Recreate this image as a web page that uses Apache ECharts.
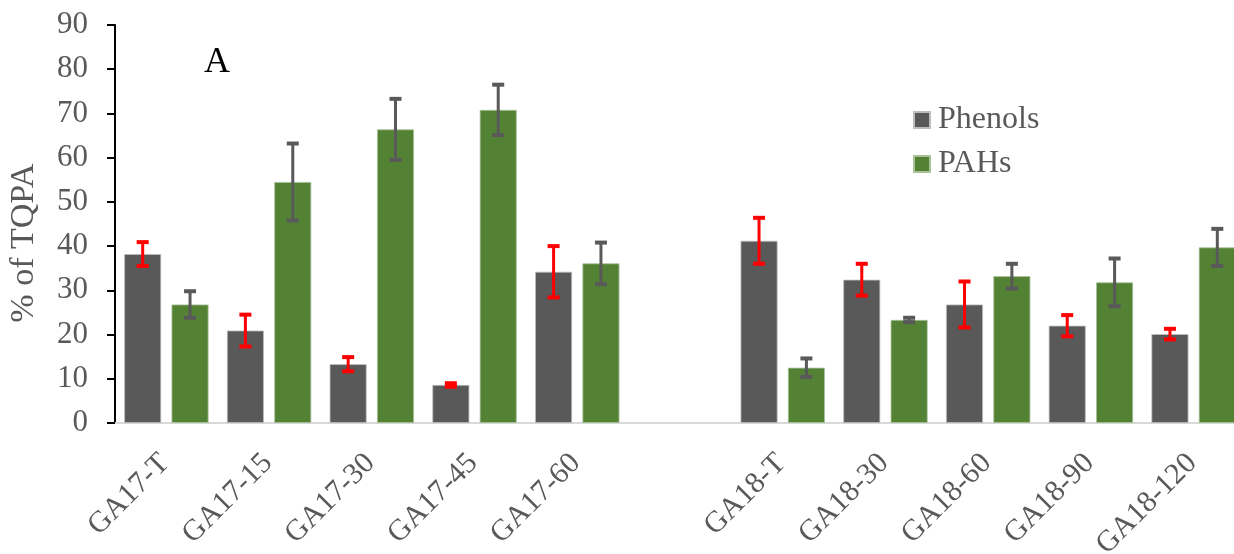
<!DOCTYPE html>
<html>
<head>
<meta charset="utf-8">
<script src="https://cdn.jsdelivr.net/npm/echarts@6/dist/echarts.min.js"></script>
<style>
  html, body { margin: 0; padding: 0; background: #fff; }
  #chart { width: 1234px; height: 554px; }
</style>
</head>
<body>
<div id="chart"></div>
<script>
// Sample sites (the blank entry separates the 2017 and 2018 groups)
const categories = ['GA17-T', 'GA17-15', 'GA17-30', 'GA17-45', 'GA17-60', '',
                    'GA18-T', 'GA18-30', 'GA18-60', 'GA18-90', 'GA18-120'];

// Share of total quantified pyrolysis area (%), with standard deviations
const phenols    = [38.2, 20.9, 13.3, 8.6, 34.2, null, 41.2, 32.4, 26.8, 22.0, 20.1];
const phenolsErr = [2.7, 3.6, 1.6, 0.4, 5.8, null, 5.2, 3.6, 5.2, 2.4, 1.2];
const pahs       = [26.8, 54.5, 66.4, 70.8, 36.1, null, 12.5, 23.3, 33.2, 31.8, 39.7];
const pahsErr    = [3.0, 8.7, 6.9, 5.7, 4.7, null, 2.1, 0.5, 2.8, 5.4, 4.2];

const yTicks = { min: 0, max: 90, interval: 10 };

const GREY = '#595959';
const GREEN = '#548235';
const RED = '#ff0000';
const FONT = '"Liberation Serif", "Times New Roman", serif';

const BAR_W = 37;
const BAR_GAP = 0.28;
const SHIFT = BAR_W * (1 + BAR_GAP) / 2;

function errData(vals, errs) {
  return vals.map((v, i) => v == null ? null : [i, v - errs[i], v + errs[i]]);
}

// Vertical whisker with flat caps, offset onto its own bar of the pair
function errorBars(color, dir) {
  return function (params, api) {
    const i = api.value(0);
    const lo = api.coord([i, api.value(1)]);
    const hi = api.coord([i, api.value(2)]);
    const x = lo[0] + dir * SHIFT;
    const cap = 6;
    const style = { stroke: color, lineWidth: 3 };
    const capStyle = { stroke: color, lineWidth: 4 };
    return {
      type: 'group',
      children: [
        { type: 'line', shape: { x1: x, y1: lo[1], x2: x, y2: hi[1] }, style },
        { type: 'line', shape: { x1: x - cap, y1: hi[1], x2: x + cap, y2: hi[1] }, style: capStyle },
        { type: 'line', shape: { x1: x - cap, y1: lo[1], x2: x + cap, y2: lo[1] }, style: capStyle }
      ]
    };
  };
}

const chart = echarts.init(document.getElementById('chart'), null, { renderer: 'canvas' });

chart.setOption({
  animation: false,
  backgroundColor: '#ffffff',
  grid: { left: 115, width: 1130, top: 25, bottom: 131, containLabel: false, outerBoundsMode: 'none' },
  legend: {
    data: ['Phenols', 'PAHs'],
    orient: 'vertical',
    left: 908,
    top: 99,
    itemWidth: 16,
    itemHeight: 16,
    itemGap: 12,
    icon: 'rect',
    textStyle: { fontFamily: FONT, fontSize: 32, color: GREY, lineHeight: 32, padding: [0, 0, 0, 3] }
  },
  graphic: [{
    type: 'text',
    left: 204,
    top: 45,
    style: { text: 'A', fontFamily: FONT, fontSize: 36, fill: '#000' }
  }],
  xAxis: {
    type: 'category',
    data: categories,
    axisLine: { lineStyle: { color: '#d9d9d9', width: 2 } },
    axisTick: { show: false },
    axisLabel: {
      rotate: 45,
      interval: 0,
      margin: 13,
      verticalAlign: 'top',
      padding: [0, 17, 0, 0],
      fontFamily: FONT,
      fontSize: 30,
      color: GREY
    }
  },
  yAxis: {
    type: 'value',
    min: yTicks.min,
    max: yTicks.max,
    interval: yTicks.interval,
    name: '% of TQPA',
    nameLocation: 'middle',
    nameGap: 74,
    nameTextStyle: { fontFamily: FONT, fontSize: 34, color: GREY, padding: [0, 38, 0, 0] },
    axisLine: { show: true, lineStyle: { color: '#000', width: 2 } },
    axisTick: { show: true, length: 8, lineStyle: { color: '#000', width: 2 } },
    splitLine: { show: false },
    axisLabel: { margin: 27, fontFamily: FONT, fontSize: 31, color: GREY }
  },
  series: [
    {
      name: 'Phenols',
      type: 'bar',
      data: phenols,
      barWidth: BAR_W,
      barGap: (BAR_GAP * 100) + '%',
      itemStyle: { color: GREY, borderColor: '#bdbdbd', borderWidth: 0.8 }
    },
    {
      name: 'PAHs',
      type: 'bar',
      data: pahs,
      barWidth: BAR_W,
      barGap: (BAR_GAP * 100) + '%',
      itemStyle: { color: GREEN, borderColor: '#a9c29a', borderWidth: 0.8 }
    },
    {
      name: 'Phenols SD',
      type: 'custom',
      renderItem: errorBars(RED, -1),
      data: errData(phenols, phenolsErr),
      encode: { x: 0, y: [1, 2] },
      z: 10,
      clip: false
    },
    {
      name: 'PAHs SD',
      type: 'custom',
      renderItem: errorBars(GREY, 1),
      data: errData(pahs, pahsErr),
      encode: { x: 0, y: [1, 2] },
      z: 10,
      clip: false
    }
  ]
});
</script>
</body>
</html>
